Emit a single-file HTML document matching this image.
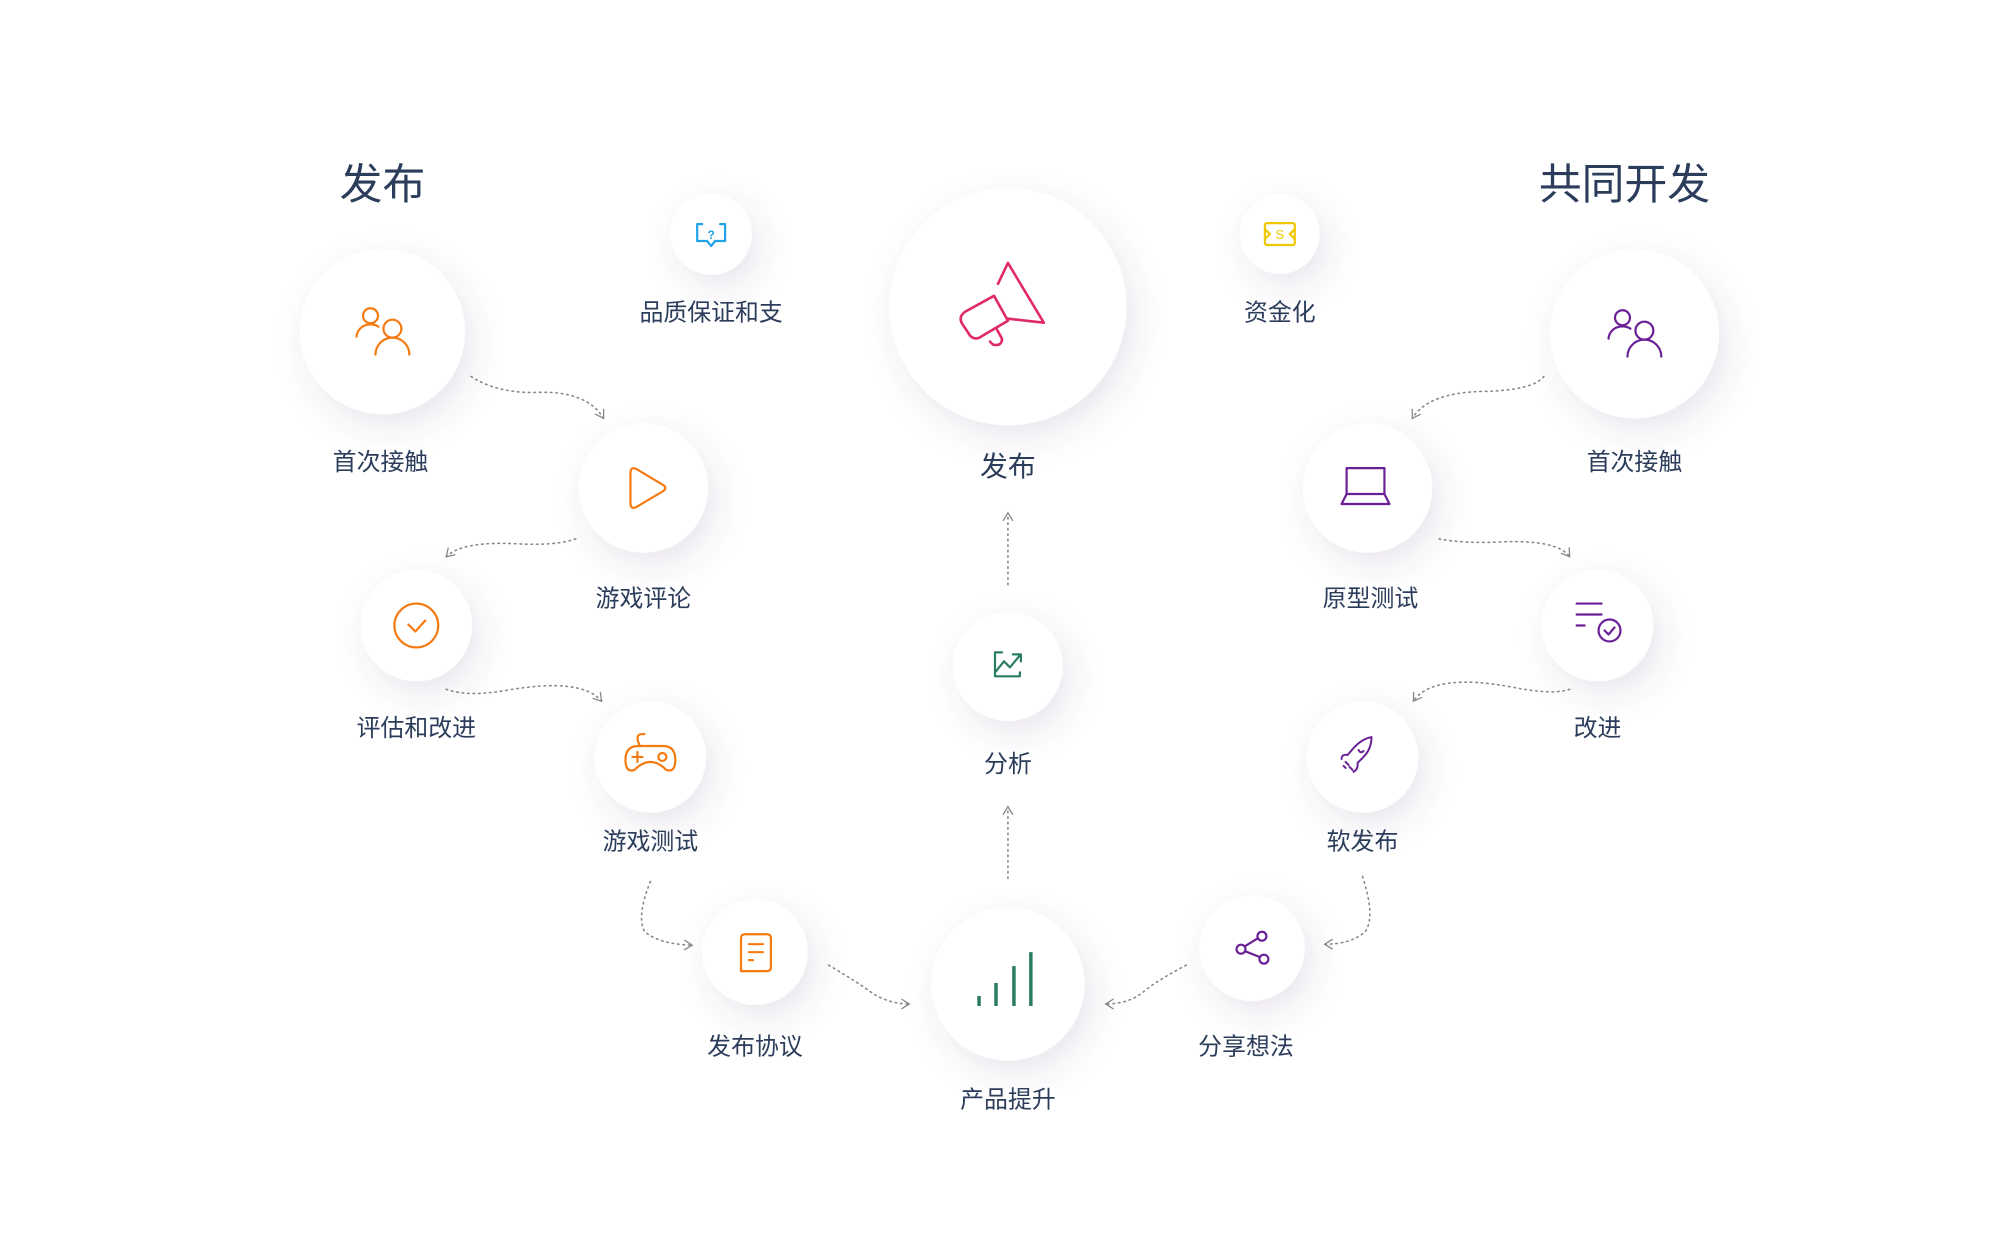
<!DOCTYPE html>
<html><head><meta charset="utf-8"><style>
html,body{margin:0;padding:0;background:#fff;}
svg{display:block;}
text{font-family:"Liberation Sans","Noto Sans CJK SC",sans-serif;fill:#2b3d5b;text-anchor:middle;}
</style></head><body>
<svg width="2000" height="1255" viewBox="0 0 2000 1255" xmlns="http://www.w3.org/2000/svg">
<defs>
<filter id="sh" x="-60%" y="-60%" width="220%" height="220%">
<feDropShadow dx="8" dy="12" stdDeviation="16" flood-color="#5a4a78" flood-opacity="0.13"/>
</filter>
<marker id="ar" viewBox="0 0 12 12" refX="10" refY="6" markerWidth="12" markerHeight="12" markerUnits="userSpaceOnUse" orient="auto">
<path d="M2,1 L10,6 L2,11" fill="none" stroke="#888" stroke-width="1.3"/>
</marker>
</defs>
<g transform="translate(-1,0) scale(0.996)">
<!-- circles -->
<g fill="#fff" filter="url(#sh)">
<circle cx="385" cy="333" r="83"/>
<circle cx="715" cy="235" r="41"/>
<circle cx="1013" cy="308" r="119"/>
<circle cx="1286" cy="235" r="40"/>
<circle cx="1642" cy="335" r="85"/>
<circle cx="647" cy="490" r="65"/>
<circle cx="1374" cy="490" r="65"/>
<circle cx="419" cy="628" r="56"/>
<circle cx="1605" cy="628" r="56"/>
<circle cx="1013" cy="669" r="55"/>
<circle cx="654" cy="760" r="56"/>
<circle cx="1369" cy="760" r="56"/>
<circle cx="759" cy="956" r="53"/>
<circle cx="1258" cy="952" r="53"/>
<circle cx="1013" cy="988" r="77"/>
</g>

<!-- connectors -->
<g fill="none" stroke="#888" stroke-width="1.6" stroke-dasharray="1.5 4" stroke-linecap="round" marker-end="url(#ar)">
<path d="M474,378 Q500,395 540,394 Q590,392 607,420"/>
<path d="M579,541 Q560,548 520,546 Q465,543 449,559"/>
<path d="M449,692 Q470,700 510,693 Q585,680 605,704"/>
<path d="M654,885 Q640,920 648,935 Q662,948 696,949"/>
<path d="M833,969 Q865,988 878,998 Q895,1008 914,1008"/>
<path d="M1013,882 L1013,810"/>
<path d="M1013,587 L1013,515"/>
<path d="M1551,378 Q1540,392 1490,393 Q1435,394 1419,420"/>
<path d="M1446,541 Q1470,546 1510,544 Q1565,542 1577,559"/>
<path d="M1577,692 Q1560,698 1520,690 Q1440,675 1420,704"/>
<path d="M1369,880 Q1382,920 1372,935 Q1358,948 1331,948"/>
<path d="M1192,969 Q1162,985 1150,995 Q1135,1008 1111,1008"/>
</g>

<!-- icons -->
<g fill="none" stroke-width="2.2" stroke-linecap="round" stroke-linejoin="round">
<g stroke="#f57a10" transform="translate(385,333)">
<circle cx="-12" cy="-16" r="7.5"/><path d="M-26,5 A14,13 0 0 1 -4,-5"/>
<circle cx="10" cy="-3" r="9"/><path d="M-7,23 A17,17 0 0 1 27,23"/>
</g>
<g stroke="#6a1f96" transform="translate(1642,335)">
<circle cx="-12" cy="-16" r="7.5"/><path d="M-26,5 A14,13 0 0 1 -4,-5"/>
<circle cx="10" cy="-3" r="9"/><path d="M-7,23 A17,17 0 0 1 27,23"/>
</g>
<g stroke="#1fa2e8" transform="translate(715,235)">
<path d="M-9,-10 H-14 V7 H-4 L0,12 L4,7 H14 V-10 H9"/>
</g>
<text x="715" y="240" style="font-size:12px;fill:#1fa2e8;font-weight:bold">?</text>
<g stroke="#e0296b" stroke-width="2.6">
<path d="M1003,285 L1013,264 L1049,324 L1013,320"/>
<path d="M999,297 L970,313 Q963,318 967,325 L975,337 Q980,342 986,338 L1013,322 Z"/>
<path d="M1002,331 L1007,340 Q1007,348 998,346 L995,343"/>
</g>
<g stroke="#f0c800" transform="translate(1286,235)">
<rect x="-15" y="-11" width="30" height="22" rx="2"/>
<path d="M-15,-5 L-10,0 L-15,5 M15,-5 L10,0 L15,5"/>
</g>
<text x="1286" y="240" style="font-size:13px;fill:#f0c800">S</text>
<path stroke="#f57a10" d="M634,475 Q634,468 640,471 L667,487 Q671,490 667,493 L640,509 Q634,512 634,505 Z"/>
<g stroke="#6a1f96"><rect x="1353" y="470" width="38" height="26"/><path d="M1353,496 L1348,506 H1396 L1391,496"/></g>
<g stroke="#f57a10"><circle cx="419" cy="628" r="22"/><path d="M411,627 L418,634 L428,623"/></g>
<g stroke="#6a1f96"><path d="M1584,606 H1609 M1584,617 H1609 M1584,628 H1592"/><circle cx="1617" cy="633" r="11"/><path d="M1612,633 L1616,637 L1622,630"/></g>
<g stroke="#2a7d5e"><path d="M1007,655 H1000 V679 H1025 V675"/><path d="M1001,674 L1009,664 L1015,670 L1025,658"/><path d="M1018,657 H1026 V664"/></g>
<g stroke="#f57a10"><path d="M643,748 Q638,737 646,737 H648"/><path d="M642,749 H667 Q679,749 679,763 Q679,776 670,773 Q662,765 654,765 Q646,765 638,773 Q629,776 629,763 Q629,749 642,749 Z"/><path d="M636,760 H646 M641,755 V765"/><circle cx="666" cy="760" r="4"/></g>
<g stroke="#6a1f96" stroke-width="2"><path d="M1354,758 L1360,751 Q1368,742 1378,740 Q1378,752 1370,760 L1364,766 Q1365,772 1360,775 M1354,758 Q1348,757 1348,762"/><path d="M1365,753 Q1367,757 1370,754"/><path d="M1352,765 L1355,768 M1356,770 L1359,773 M1350,769 L1352,771"/></g>
<g stroke="#f57a10"><path d="M745,975 V942 Q745,938 749,938 H771 Q775,938 775,942 V971 Q775,975 771,975 H745"/><path d="M753,948 H767 M753,956 H767 M753,964 H757"/></g>
<g stroke="#6a1f96"><circle cx="1268" cy="940" r="4.5"/><circle cx="1247" cy="953" r="4.5"/><circle cx="1270" cy="963" r="4.5"/><path d="M1251,950 L1264,942 M1251,955 L1266,961"/></g>
<g stroke="#2a7d5e" stroke-width="3.5" stroke-linecap="butt"><path d="M984,1010 V1000 M1001,1010 V987 M1019,1010 V970 M1036,1010 V956"/></g>
</g>

<!-- labels -->
<text x="385" y="200" style="font-size:43px">发布</text>
<text x="1632" y="200" style="font-size:43px">共同开发</text>
<g style="font-size:24px">
<text x="383" y="472">首次接触</text>
<text x="715" y="322">品质保证和支</text>
<text x="1013" y="478" style="font-size:28px">发布</text>
<text x="1286" y="322">资金化</text>
<text x="1642" y="472">首次接触</text>
<text x="647" y="609">游戏评论</text>
<text x="1377" y="609">原型测试</text>
<text x="419" y="739">评估和改进</text>
<text x="1605" y="739">改进</text>
<text x="1013" y="775">分析</text>
<text x="654" y="853">游戏测试</text>
<text x="1369" y="853">软发布</text>
<text x="759" y="1059">发布协议</text>
<text x="1252" y="1059">分享想法</text>
<text x="1013" y="1112">产品提升</text>
</g>
</g>
</svg>
</body></html>
